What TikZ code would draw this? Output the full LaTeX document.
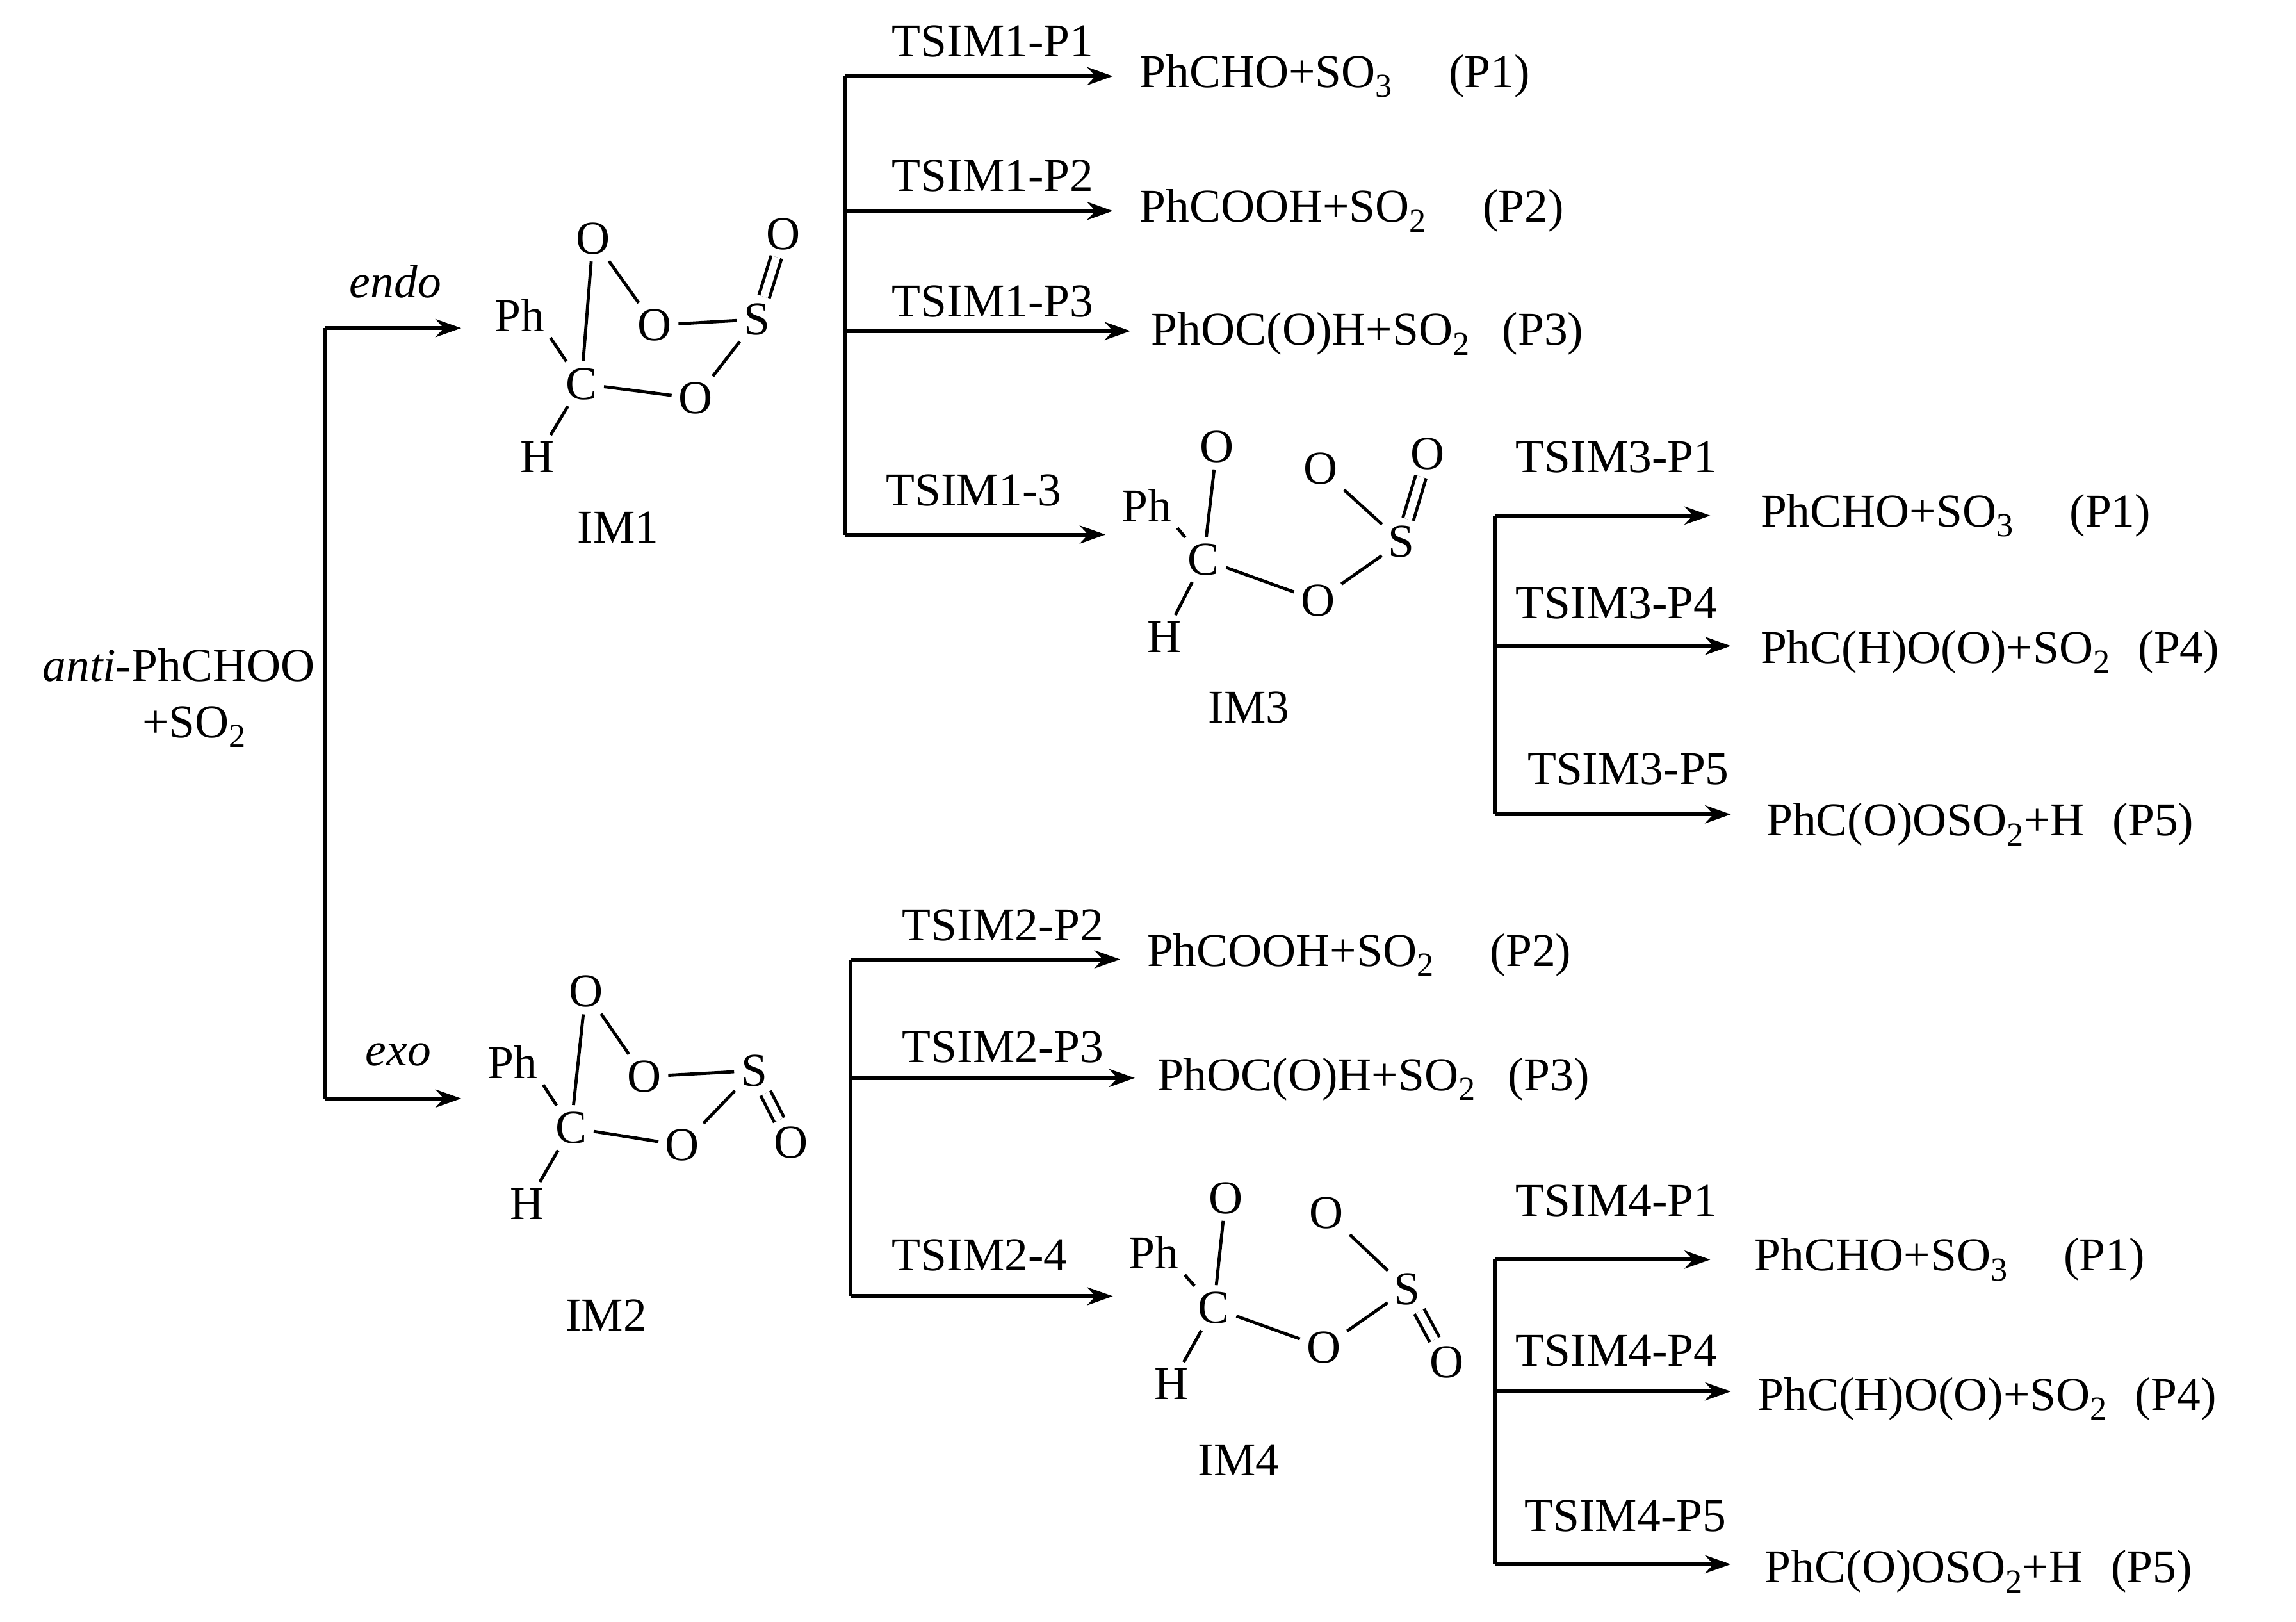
\documentclass[tikz,border=0pt]{standalone}
\usepackage{fontspec}
\setmainfont{Liberation Serif}
\usetikzlibrary{arrows.meta}
\newcommand{\lsub}[1]{\raisebox{-0.45ex}{\fontsize{13}{14}\selectfont #1}}
\tikzset{
 every node/.style={font=\fontsize{18.3}{21}\selectfont, inner sep=0pt},
 atom/.style={inner sep=1.5pt},
 ln/.style={line width=1.5pt},
 ar/.style={line width=1.5pt,-{Stealth[length=10pt,width=7pt]}},
 bd/.style={line width=1.2pt, shorten <=1pt, shorten >=1pt}
}
\begin{document}
\begin{tikzpicture}[x=0.02cm,y=-0.02cm]
\useasboundingbox (0,0) rectangle (1568,1107);
% start
\node (start) at (122,477) {\begin{tabular}{c}\textit{anti}-PhCHOO\\[1pt] \hspace*{12pt}+SO\lsub{2}\end{tabular}};
\coordinate (st) at (222,224); \coordinate (sb) at (222,750);
\coordinate (e1) at (315,224); \coordinate (e2) at (315,750);
\draw[ln] (st) -- (sb);
\draw[ar] (st) -- (e1); \draw[ar] (sb) -- (e2);
\node (endo) at (270,192) {\textit{endo}};
\node (exo) at (272,720) {\textit{exo}};
% IM1
\node[atom] (a1Ph) at (355,215) {Ph};
\node[atom] (a1Ot) at (405,163) {O};
\node[atom] (a1Om) at (447,222) {O};
\node[atom] (a1S) at (517,218) {S};
\node[atom] (a1Od) at (535,160) {O};
\node[atom] (a1Ol) at (475,272) {O};
\node[atom] (a1C) at (397,262) {C};
\node[atom] (a1H) at (367,312) {H};
\draw[bd] (a1C)--(a1Ot); \draw[bd] (a1Ot)--(a1Om); \draw[bd] (a1Om)--(a1S);
\draw[bd] (a1S)--(a1Ol); \draw[bd] (a1Ol)--(a1C); \draw[bd] (a1C)--(a1Ph.south east); \draw[bd] (a1C)--(a1H);
\draw[bd,double,double distance=3pt] (a1S)--(a1Od);
\node (IM1) at (422,360) {IM1};
% IM1 branches
\coordinate (b1t) at (577,52); \coordinate (b1b) at (577,365);
\draw[ln] (b1t)--(b1b);
\coordinate (b1y2) at (577,144); \coordinate (b1y3) at (577,226);
\draw[ar] (b1t)--(760,52); \draw[ar] (b1y2)--(760,144); \draw[ar] (b1y3)--(772,226); \draw[ar] (b1b)--(755,365);
\node at (678,28) {TSIM1-P1};
\node at (678,120) {TSIM1-P2};
\node at (678,206) {TSIM1-P3};
\node at (665,335) {TSIM1-3};
\node[anchor=west] at (778,52) {PhCHO+SO\lsub{3}\hspace{1.2em}(P1)};
\node[anchor=west] at (778,144) {PhCOOH+SO\lsub{2}\hspace{1.2em}(P2)};
\node[anchor=west] at (786,228) {PhOC(O)H+SO\lsub{2}\hspace{0.7em}(P3)};
% IM3
\node[atom] (a3Ph) at (783,345) {Ph};
\node[atom] (a3Ot) at (831,305) {O};
\node[atom] (a3C) at (822,382) {C};
\node[atom] (a3H) at (795,435) {H};
\node[atom] (a3O) at (900,410) {O};
\node[atom] (a3S) at (957,370) {S};
\node[atom] (a3O2) at (902,320) {O};
\node[atom] (a3Od) at (975,310) {O};
\draw[bd] (a3C)--(a3Ot); \draw[bd] (a3C)--(a3Ph.south east); \draw[bd] (a3C)--(a3H);
\draw[bd] (a3C)--(a3O); \draw[bd] (a3O)--(a3S); \draw[bd] (a3S)--(a3O2);
\draw[bd,double,double distance=3pt] (a3S)--(a3Od);
\node (IM3) at (853,483) {IM3};
% IM3 branches
\coordinate (b3t) at (1021,352); \coordinate (b3m) at (1021,441); \coordinate (b3b) at (1021,556);
\draw[ln] (b3t)--(b3b);
\draw[ar] (b3t)--(1168,352); \draw[ar] (b3m)--(1182,441); \draw[ar] (b3b)--(1182,556);
\node at (1104,312) {TSIM3-P1};
\node at (1104,412) {TSIM3-P4};
\node at (1112,525) {TSIM3-P5};
\node[anchor=west] at (1202,352) {PhCHO+SO\lsub{3}\hspace{1.2em}(P1)};
\node[anchor=west] at (1202,445) {PhC(H)O(O)+SO\lsub{2}\hspace{0.6em}(P4)};
\node[anchor=west] at (1206,563) {PhC(O)OSO\lsub{2}+H\hspace{0.6em}(P5)};
% IM2
\node[atom] (a2Ph) at (350,725) {Ph};
\node[atom] (a2Ot) at (400,677) {O};
\node[atom] (a2Om) at (440,735) {O};
\node[atom] (a2S) at (515,731) {S};
\node[atom] (a2Od) at (540,780) {O};
\node[atom] (a2Ol) at (466,782) {O};
\node[atom] (a2C) at (390,770) {C};
\node[atom] (a2H) at (360,822) {H};
\draw[bd] (a2C)--(a2Ot); \draw[bd] (a2Ot)--(a2Om); \draw[bd] (a2Om)--(a2S);
\draw[bd] (a2S)--(a2Ol); \draw[bd] (a2Ol)--(a2C); \draw[bd] (a2C)--(a2Ph.south east); \draw[bd] (a2C)--(a2H);
\draw[bd,double,double distance=3pt] (a2S)--(a2Od);
\node (IM2) at (414,898) {IM2};
% IM2 branches
\coordinate (b2t) at (581,655); \coordinate (b2m) at (581,736); \coordinate (b2b) at (581,885);
\draw[ln] (b2t)--(b2b);
\draw[ar] (b2t)--(765,655); \draw[ar] (b2m)--(775,736); \draw[ar] (b2b)--(760,885);
\node at (685,632) {TSIM2-P2};
\node at (685,715) {TSIM2-P3};
\node at (669,857) {TSIM2-4};
\node[anchor=west] at (783,652) {PhCOOH+SO\lsub{2}\hspace{1.2em}(P2)};
\node[anchor=west] at (790,737) {PhOC(O)H+SO\lsub{2}\hspace{0.7em}(P3)};
% IM4
\node[atom] (a4Ph) at (788,855) {Ph};
\node[atom] (a4Ot) at (837,818) {O};
\node[atom] (a4C) at (829,893) {C};
\node[atom] (a4H) at (800,945) {H};
\node[atom] (a4O) at (904,920) {O};
\node[atom] (a4S) at (961,880) {S};
\node[atom] (a4O2) at (906,828) {O};
\node[atom] (a4Od) at (988,930) {O};
\draw[bd] (a4C)--(a4Ot); \draw[bd] (a4C)--(a4Ph.south east); \draw[bd] (a4C)--(a4H);
\draw[bd] (a4C)--(a4O); \draw[bd] (a4O)--(a4S); \draw[bd] (a4S)--(a4O2);
\draw[bd,double,double distance=3pt] (a4S)--(a4Od);
\node (IM4) at (846,997) {IM4};
% IM4 branches
\coordinate (b4t) at (1021,860); \coordinate (b4m) at (1021,950); \coordinate (b4b) at (1021,1068);
\draw[ln] (b4t)--(b4b);
\draw[ar] (b4t)--(1168,860); \draw[ar] (b4m)--(1182,950); \draw[ar] (b4b)--(1182,1068);
\node at (1104,820) {TSIM4-P1};
\node at (1104,922) {TSIM4-P4};
\node at (1110,1035) {TSIM4-P5};
\node[anchor=west] at (1198,860) {PhCHO+SO\lsub{3}\hspace{1.2em}(P1)};
\node[anchor=west] at (1200,955) {PhC(H)O(O)+SO\lsub{2}\hspace{0.6em}(P4)};
\node[anchor=west] at (1205,1073) {PhC(O)OSO\lsub{2}+H\hspace{0.6em}(P5)};
\end{tikzpicture}
\end{document}
